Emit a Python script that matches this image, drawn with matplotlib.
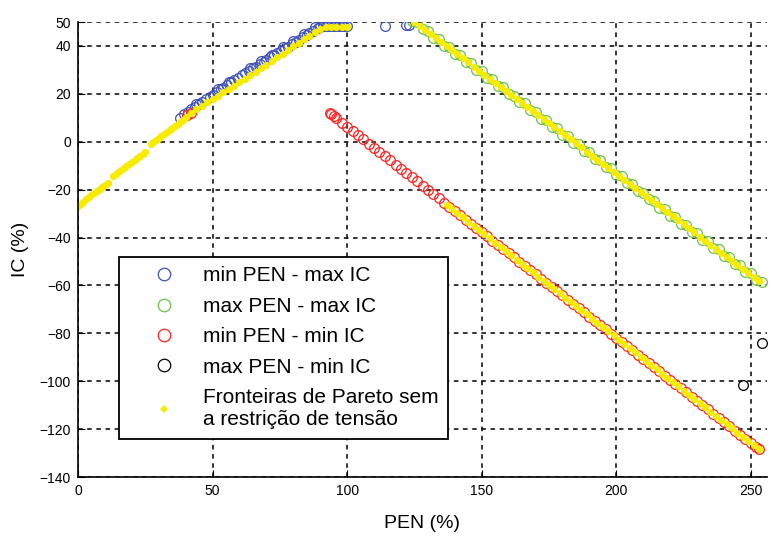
import matplotlib
matplotlib.use("Agg")
import matplotlib.pyplot as plt
from matplotlib.lines import Line2D

# min PEN - max IC (blue)
blue_x = [38, 39.5, 41, 42, 43.5, 45, 46, 47.5, 49, 50, 51.5, 53, 54, 55.5, 57, 58, 59.5, 61, 62, 63.5,
          65, 66, 67.5, 69, 70, 71.5, 73, 74, 75.5, 77, 78, 79.5, 81, 82, 83.5, 85, 86, 87.5, 89, 90,
          91, 92, 93, 94, 95, 96, 97, 98, 99, 100, 114, 122, 123,
          44, 52, 56, 64, 68, 72, 76, 80, 84, 88]
blue_y = [10, 11.5, 12.5, 13.5, 14.5, 15.8, 16.5, 17.8, 18.8, 19.6, 20.8, 22, 22.6, 23.8, 25, 25.6, 26.8, 27.8, 28.5, 29.6,
          30.6, 31.3, 32.4, 33.4, 34.2, 35.2, 36.2, 36.9, 38, 39, 39.6, 40.7, 41.8, 42.5, 43.6, 44.6, 45.3, 46.3, 47.4, 48,
          48.5, 48.5, 48.5, 48.5, 48.5, 48.5, 48.5, 48.5, 48.5, 48.5, 48.5, 48.7, 48.7,
          15.8, 22.2, 25, 30.8, 33.6, 36.4, 39.4, 42.2, 45, 47.8]

# max PEN - max IC (green)
green_x = [124, 126, 128, 130, 132, 134, 136, 138, 140, 142, 144, 146, 148, 150, 152, 154, 156, 158, 160,
           162, 164, 166, 168, 170, 172, 174, 176, 178, 180, 182, 184, 186, 188, 190, 192, 194, 196, 198,
           200, 202, 204, 206, 208, 210, 212, 214, 216, 218, 220, 222, 224, 226, 228, 230, 232, 234, 236,
           238, 240, 242, 244, 246, 248, 250, 252, 254]
green_y = [50.3, 49.8, 46.9, 46.4, 43.5, 43.0, 40.1, 39.6, 36.7, 36.2, 33.3, 32.9, 30.0, 29.5, 26.6, 26.1,
           23.2, 22.7, 19.8, 19.3, 16.4, 16.0, 13.1, 12.6, 9.7, 9.2, 6.3, 5.8, 2.9, 2.4, -0.5, -0.9,
           -3.8, -4.3, -7.2, -7.7, -10.6, -11.1, -14.0, -14.5, -17.4, -17.8, -20.7, -21.2, -24.1, -24.6,
           -27.5, -28.0, -30.9, -31.4, -34.3, -34.7, -37.6, -38.1, -41.0, -41.5, -44.4, -44.9, -47.8,
           -48.3, -51.2, -51.6, -54.5, -55.0, -57.9, -58.4]

# min PEN - min IC (red)
red_x = [40.5, 42, 93.5, 94, 95, 96, 98, 100, 102, 104, 106, 108, 110, 112, 114, 116, 118, 120, 122, 124,
         126, 128, 130, 132, 134, 136, 138, 140, 142, 144, 146, 148, 150, 152, 154, 156, 158, 160, 162,
         164, 166, 168, 170, 172, 174, 176, 178, 180, 182, 184, 186, 188, 190, 192, 194, 196, 198, 200,
         202, 204, 206, 208, 210, 212, 214, 216, 218, 220, 222, 224, 226, 228, 230, 232, 234, 236, 238,
         240, 242, 244, 246, 248, 250, 252, 253]
red_y = [11, 12, 12, 11.6, 10.7, 9.8, 8.0, 6.3, 4.5, 2.7, 1.0, -0.8, -2.5, -4.3, -6.1, -7.8, -9.6, -11.3,
         -13.1, -14.9, -16.6, -18.4, -20.2, -21.9, -23.7, -25.4, -27.2, -29.0, -30.7, -32.5, -34.3, -36.0,
         -37.8, -39.5, -41.3, -43.1, -44.8, -46.6, -48.3, -50.1, -51.9, -53.6, -55.4, -57.2, -58.9, -60.7,
         -62.4, -64.2, -66.0, -67.7, -69.5, -71.3, -73.0, -74.8, -76.5, -78.3, -80.1, -81.8, -83.6, -85.4,
         -87.1, -88.9, -90.6, -92.4, -94.2, -95.9, -97.7, -99.4, -101.2, -103.0, -104.7, -106.5, -108.3,
         -110.0, -111.8, -113.5, -115.3, -117.1, -118.8, -120.6, -122.4, -124.1, -125.9, -127.6, -128.5]

# max PEN - min IC (black)
black_x = [247, 254]
black_y = [-101.5, -84]

# Fronteiras de Pareto sem a restricao de tensao (yellow)
yel_x = [0, 1, 2, 3, 4, 5, 6, 7, 8, 9, 10, 11, 13, 14, 15, 16, 17, 18, 19, 20, 21, 22, 23, 24, 25,
         27, 28, 29, 30, 31, 32, 33, 34, 35, 36, 37, 38, 39,
         40, 42, 44, 46, 48, 50, 52, 54, 56, 58, 60, 62, 64, 66, 68, 70, 72, 74, 76, 78, 80, 82, 84,
         86, 88, 90, 92, 94, 96, 98, 100,
         125, 127, 129, 131, 133, 135, 137, 139, 141, 143, 145, 147, 149, 151, 153, 155, 157, 159, 161,
         163, 165, 167, 169, 171, 173, 175, 177, 179, 181, 183, 185, 187, 189, 191, 193, 195, 197, 199,
         201, 203, 205, 207, 209, 211, 213, 215, 217, 219, 221, 223, 225, 227, 229, 231, 233, 235, 237,
         239, 241, 243, 245, 247, 249, 251, 253,
         137, 139, 141, 143, 145, 147, 149, 151, 153, 155, 157, 159, 161, 163, 165, 167, 169, 171, 173,
         175, 177, 179, 181, 183, 185, 187, 189, 191, 193, 195, 197, 199, 201, 203, 205, 207, 209, 211,
         213, 215, 217, 219, 221, 223, 225, 227, 229, 231, 233, 235, 237, 239, 241, 243, 245, 247, 249,
         251, 253]
yel_y = [-27, -26, -25, -24, -23, -22.3, -21.5, -20.5, -19.8, -19, -18, -17.2, -14.5, -13.6, -12.7, -11.8,
         -11, -10, -9.3, -8.5, -7.6, -6.8, -6, -5.2, -4.3,
         -1, 0, 0.8, 1.6, 2.5, 3.3, 4.2, 5, 5.8, 6.6, 7.4, 8.2, 9,
         10.5, 12, 13.5, 15, 16.5, 17.8, 19.2, 20.6, 22, 23.4, 24.8, 26.2, 27.8, 29.2, 30.8, 32.2, 33.8,
         35.2, 36.8, 38.3, 39.8, 41.3, 42.8, 44.3, 45.8, 47, 47.8, 47.8, 47.8, 47.8, 47.8,
         50.0, 48.3, 46.6, 44.9, 43.2, 41.6, 39.9, 38.2, 36.5, 34.8, 33.1, 31.4, 29.7, 28.0, 26.3, 24.7,
         23.0, 21.3, 19.6, 17.9, 16.2, 14.5, 12.8, 11.1, 9.4, 7.8, 6.1, 4.4, 2.7, 1.0, -0.7, -2.4, -4.1,
         -5.8, -7.5, -9.2, -10.8, -12.5, -14.2, -15.9, -17.6, -19.3, -21.0, -22.7, -24.4, -26.1, -27.7,
         -29.4, -31.1, -32.8, -34.5, -36.2, -37.9, -39.6, -41.3, -43.0, -44.6, -46.3, -48.0, -49.7,
         -51.4, -53.1, -54.8, -56.5, -58.2,
         -26.3, -28.1, -29.8, -31.6, -33.4, -35.1, -36.9, -38.7, -40.4, -42.2, -43.9, -45.7, -47.5,
         -49.2, -51.0, -52.8, -54.5, -56.3, -58.0, -59.8, -61.6, -63.3, -65.1, -66.8, -68.6, -70.4,
         -72.1, -73.9, -75.7, -77.4, -79.2, -80.9, -82.7, -84.5, -86.2, -88.0, -89.8, -91.5, -93.3,
         -95.0, -96.8, -98.6, -100.3, -102.1, -103.9, -105.6, -107.4, -109.1, -110.9, -112.7, -114.4,
         -116.2, -117.9, -119.7, -121.5, -123.2, -125.0, -126.8, -128.5]

labels = ["min PEN - max IC", "max PEN - max IC", "min PEN - min IC", "max PEN - min IC",
          "Fronteiras de Pareto sem\na restrição de tensão"]
x_ticks = [0, 50, 100, 150, 200, 250]
y_ticks = [-140, -120, -100, -80, -60, -40, -20, 0, 20, 40, 50]

c_blue = "#3f51b5"
c_green = "#6cc04a"
c_red = "#ff2222"
c_yel = "#f7ec00"

plt.rcParams["font.family"] = ["Liberation Sans", "DejaVu Sans"]

fig = plt.figure(figsize=(7.71, 5.38), dpi=100)
ax = fig.add_axes([78 / 771, 1 - 477 / 538, 689 / 771, 455 / 538])

ms = 7
ax.plot(blue_x, blue_y, "o", mfc="none", mec=c_blue, ms=ms, mew=0.9)
ax.plot(green_x, green_y, "o", mfc="none", mec=c_green, ms=ms, mew=0.9)
ax.plot(red_x, red_y, "o", mfc="none", mec=c_red, ms=ms, mew=0.9)
ax.plot(black_x, black_y, "o", mfc="none", mec="black", ms=ms, mew=0.9)
ax.plot(yel_x, yel_y, "o", color=c_yel, ms=5.2, mew=0)

ax.set_xlim(0, 256)
ax.set_ylim(-140, 50)
ax.set_xticks(x_ticks)
ax.set_yticks(y_ticks)
ax.grid(True, color="black", linestyle=(0, (3, 3)), linewidth=1.1)
ax.tick_params(direction="in", length=5, labelsize=10, pad=5)
for s in ["top", "right"]:
    ax.spines[s].set_visible(False)
for s in ["left", "bottom"]:
    ax.spines[s].set_linewidth(1.2)

ax.set_xlabel("PEN (%)", fontsize=14, labelpad=12)
ax.set_ylabel("IC (%)", fontsize=14, labelpad=8)

handles = [
    Line2D([], [], ls="none", marker="o", mfc="none", mec=c_blue, ms=9, mew=0.9),
    Line2D([], [], ls="none", marker="o", mfc="none", mec=c_green, ms=9, mew=0.9),
    Line2D([], [], ls="none", marker="o", mfc="none", mec=c_red, ms=9, mew=0.9),
    Line2D([], [], ls="none", marker="o", mfc="none", mec="black", ms=9, mew=0.9),
    Line2D([], [], ls="none", marker="D", color=c_yel, ms=4, mew=0),
]
leg = ax.legend(handles, labels, loc="upper left", bbox_to_anchor=(0.0595, 0.4835),
                borderaxespad=0, fancybox=False, framealpha=1, edgecolor="black",
                fontsize=15, handletextpad=0.2, borderpad=0.45, labelspacing=0.55,
                handlelength=3.4)
leg.get_frame().set_linewidth(1.3)

fig.savefig("out.png", dpi=100)
